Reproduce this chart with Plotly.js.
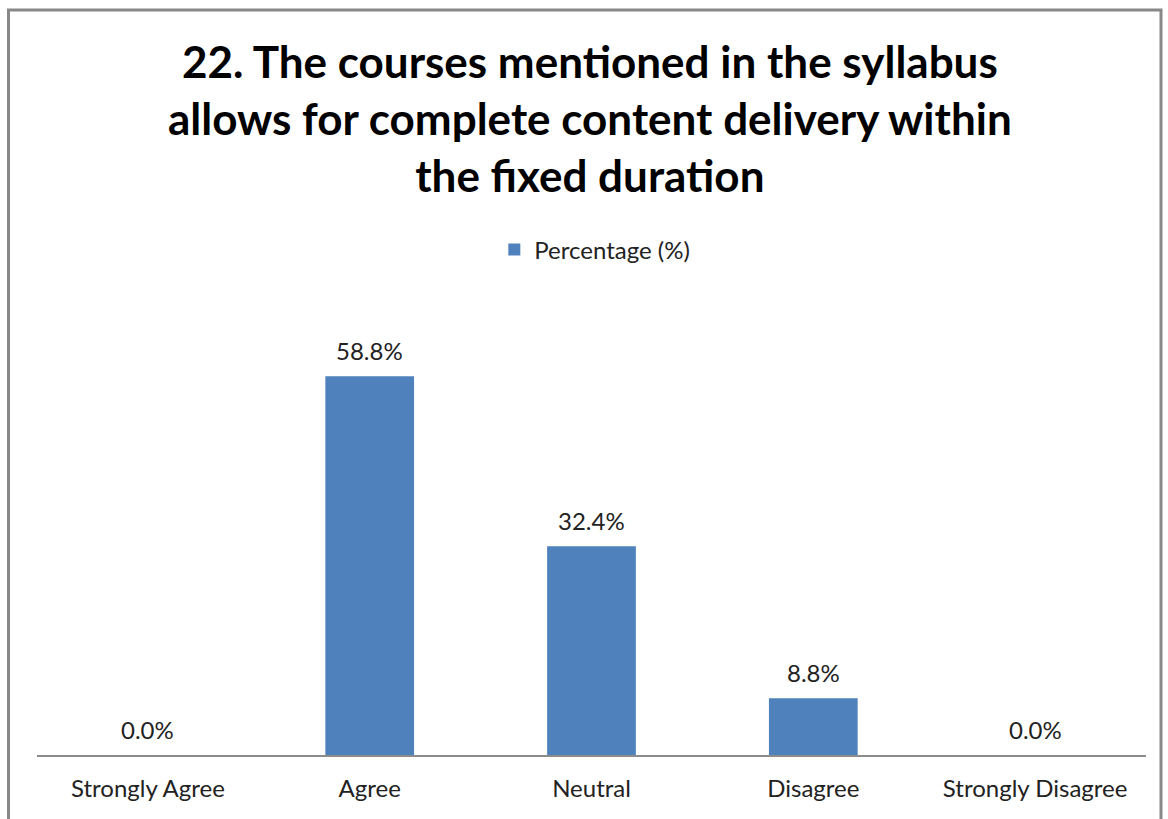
<!DOCTYPE html>
<html>
<head>
<meta charset="utf-8">
<script src="https://cdn.plot.ly/plotly-3.0.1.min.js"></script>
<style>html,body{margin:0;padding:0;background:#fff;}#chart{width:1168px;height:819px;}</style>
</head>
<body>
<div id="chart"></div>
<script>
const categories = ["Strongly Agree", "Agree", "Neutral", "Disagree", "Strongly Disagree"];
const percentages = [0.0, 58.8, 32.4, 8.8, 0.0];
const seriesName = "Percentage (%)";
const chartTitle = "22. The courses mentioned in the syllabus<br>allows for complete content delivery within<br>the fixed duration";

const FONT = "Lato, 'Open Sans', sans-serif";

const trace = {
  type: "bar",
  x: categories,
  y: percentages,
  name: seriesName,
  marker: {color: "#4F81BD"},
  width: 0.4,
  showlegend: true,
  hoverinfo: "x+y"
};

const labelAnnotations = categories.map((c, i) => ({
  x: c, y: percentages[i], xref: "x", yref: "y",
  text: percentages[i].toFixed(1) + "%",
  showarrow: false, yanchor: "middle", yshift: 26,
  font: {family: FONT, size: 24, color: "#222"}
}));

const layout = {
  width: 1168,
  height: 819,
  margin: {l: 37, r: 22, t: 304, b: 64},
  paper_bgcolor: "#fff",
  plot_bgcolor: "#fff",
  title: {
    text: chartTitle,
    font: {family: FONT, size: 44, color: "#000", weight: "bold"},
    x: 0.505, xanchor: "center",
    y: 1 - 78/819, yanchor: "top", yref: "container"
  },
  showlegend: true,
  legend: {
    orientation: "h",
    x: 0.503, xanchor: "center",
    y: 1.12, yanchor: "middle",
    font: {family: FONT, size: 24, color: "#222"},
    bgcolor: "rgba(0,0,0,0)"
  },
  annotations: labelAnnotations,
  xaxis: {
    type: "category",
    showline: true, linecolor: "#8c8c8c", linewidth: 1.5,
    ticks: "", showgrid: false, zeroline: false,
    tickfont: {family: FONT, size: 24, color: "#222"},
    ticklabelstandoff: 12,
    fixedrange: true
  },
  yaxis: {
    range: [0, 70],
    visible: false, showgrid: false, zeroline: false,
    fixedrange: true
  },
  shapes: [{
    type: "rect", xref: "paper", yref: "paper",
    x0: (8.5 - 37) / 1109, x1: (1161 - 37) / 1109,
    y0: (755 - 840) / 451, y1: (755 - 10) / 451,
    line: {color: "#888", width: 3},
    fillcolor: "rgba(0,0,0,0)",
    layer: "below"
  }]
};

Plotly.newPlot("chart", [trace], layout, {displayModeBar: false, staticPlot: true});
</script>
</body>
</html>
